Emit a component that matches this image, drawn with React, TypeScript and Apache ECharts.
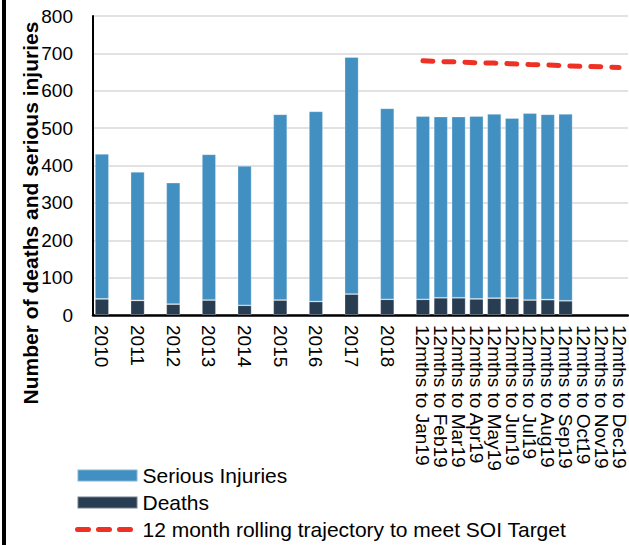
import React, { useEffect, useRef } from "react";
import * as echarts from "echarts";

const years = ["2010", "2011", "2012", "2013", "2014", "2015", "2016", "2017", "2018"];
const months = [
  "12mths to Jan19", "12mths to Feb19", "12mths to Mar19", "12mths to Apr19",
  "12mths to May19", "12mths to Jun19", "12mths to Jul19", "12mths to Aug19",
  "12mths to Sep19", "12mths to Oct19", "12mths to Nov19", "12mths to Dec19",
];
const deathsYears = [43, 39, 29, 40, 26, 40, 36, 56, 42];
const seriousYears = [388, 344, 325, 390, 373, 497, 509, 634, 511];
const deathsMonths = [42, 46, 46, 43, 45, 45, 40, 41, 38];
const seriousMonths = [490, 485, 485, 489, 493, 482, 500, 496, 500];
const targetMonths = [680, 678, 677, 675, 674, 672, 670, 669, 667, 665, 664, 662];
const yTicks = { min: 0, max: 800, interval: 100 };

const FONT = "'Liberation Sans', Arial, sans-serif";
const BLUE = "#4290c2";
const NAVY = "#283d52";
const RED = "#ee3124";
const TARGET_NAME = "12 month rolling trajectory to meet SOI Target";

export default function App() {
  const ref = useRef<HTMLDivElement>(null);
  useEffect(() => {
    if (!ref.current) return;
    const chart = echarts.init(ref.current, undefined, { renderer: "svg" });

    // Build slots: each year followed by an empty slot, then one slot per month
    const cats: string[] = [];
    const deaths: (number | null)[] = [];
    const serious: (number | null)[] = [];
    const target: (number | null)[] = [];
    years.forEach((y, i) => {
      cats.push(y, "");
      deaths.push(deathsYears[i], null);
      serious.push(seriousYears[i], null);
      target.push(null, null);
    });
    months.forEach((m, i) => {
      cats.push(m);
      deaths.push(i < deathsMonths.length ? deathsMonths[i] : null);
      serious.push(i < seriousMonths.length ? seriousMonths[i] : null);
      target.push(targetMonths[i]);
    });

    chart.setOption({
      animation: false,
      textStyle: { fontFamily: FONT },
      grid: { left: 93, top: 16, width: 535, height: 299, containLabel: false },
      legend: {
        orient: "vertical",
        left: 75,
        top: 465,
        padding: 0,
        itemWidth: 60,
        itemHeight: 12,
        itemGap: 6,
        textStyle: { fontSize: 21, color: "#000", fontFamily: FONT, lineHeight: 21 },
        data: [
          { name: "Serious Injuries", icon: "rect" },
          { name: "Deaths", icon: "rect" },
          {
            name: TARGET_NAME,
            itemStyle: { color: "rgba(0,0,0,0)", borderWidth: 0, opacity: 0 },
            lineStyle: { color: RED, width: 5, type: [11, 10], cap: "round" },
          },
        ],
      },
      xAxis: {
        type: "category",
        data: cats,
        boundaryGap: true,
        axisLine: { show: true, lineStyle: { color: "#000", width: 2.5 } },
        axisTick: { show: false },
        axisLabel: {
          interval: 0,
          rotate: -90,
          margin: 10,
          fontSize: 19,
          color: "#000",
          fontFamily: FONT,
        },
      },
      yAxis: {
        type: "value",
        min: yTicks.min,
        max: yTicks.max,
        interval: yTicks.interval,
        axisLine: { show: true, lineStyle: { color: "#000", width: 2 } },
        axisTick: { show: false },
        axisLabel: { fontSize: 19, color: "#000", margin: 20, fontFamily: FONT },
        splitLine: { lineStyle: { color: "#d9d9d9", width: 1.5 } },
      },
      graphic: [
        {
          type: "rect",
          shape: { x: 2, y: 0, width: 4, height: 545 },
          style: { fill: "#000" },
        },
        {
          type: "text",
          x: 30,
          y: 213,
          rotation: Math.PI / 2,
          style: {
            text: "Number of deaths and serious injuries",
            font: `bold 21px ${FONT}`,
            fill: "#000",
            align: "center",
            verticalAlign: "middle",
          },
        },
      ],
      series: [
        {
          name: "Deaths",
          type: "bar",
          stack: "total",
          barWidth: 14,
          data: deaths,
          itemStyle: { color: NAVY, borderColor: "rgba(255,255,255,0.35)", borderWidth: 0.8 },
        },
        {
          name: "Serious Injuries",
          type: "bar",
          stack: "total",
          barWidth: 14,
          data: serious,
          itemStyle: { color: BLUE, borderColor: "rgba(255,255,255,0.35)", borderWidth: 0.8 },
        },
        {
          name: TARGET_NAME,
          type: "line",
          data: target,
          symbol: "none",
          lineStyle: { color: RED, width: 5, type: [10, 11], cap: "round" },
          itemStyle: { color: RED },
        },
      ],
    });
    return () => chart.dispose();
  }, []);
  return (
    <div
      ref={ref}
      style={{ position: "fixed", left: 0, top: 0, width: 629, height: 545, background: "#fff" }}
    />
  );
}
